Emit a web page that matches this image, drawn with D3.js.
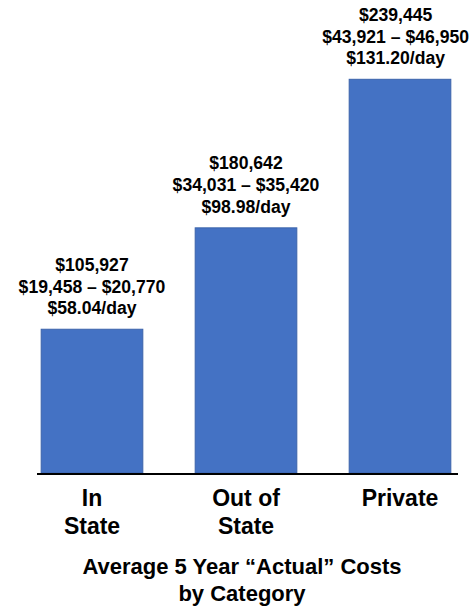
<!DOCTYPE html>
<style>
body {
  margin: 0;
  background: #fff;
}
text {
  font-family: "Liberation Sans", Arial, sans-serif;
  font-weight: bold;
  fill: #000;
}
.bar {
  fill: #4472c4;
  stroke: #3b63ab;
  stroke-width: 1;
}
.baseline {
  stroke: #000;
  stroke-width: 2;
}
</style>
<svg width="471" height="606"></svg>
<script src="https://d3js.org/d3.v7.min.js"></script>
<script>

// categories (multi-line tick labels)
var categories = ["In State", "Out of State", "Private"],
    categoryLines = [["In", "State"], ["Out of", "State"], ["Private"]];

// drawn bar heights (the private bar is drawn
// taller than its $239,445 label would give on the same scale)
var barValues = [105927, 180642, 290100];

// value labels above each bar
var totals = ["$105,927", "$180,642", "$239,445"],
    yearlyRanges = ["$19,458 \u2013 $20,770", "$34,031 \u2013 $35,420", "$43,921 \u2013 $46,950"],
    perDay = ["$58.04/day", "$98.98/day", "$131.20/day"];

var titleLines = ["Average 5 Year \u201cActual\u201d Costs", "by Category"];

var svg = d3.select("svg"),
    width = 471,
    baseY = 473;

var x = d3.scaleBand()
  .domain(categories)
  .range([15, 477])
  .paddingInner(0.34)
  .paddingOuter(0.17);

var y = d3.scaleLinear()
  .domain([0, 290100])
  .range([baseY, 79.3]);

svg.selectAll(".bar")
  .data(categories)
  .enter().append("rect")
  .attr("class", "bar")
  .attr("x", (d, i) => x(d))
  .attr("width", x.bandwidth())
  .attr("y", (d, i) => y(barValues[i]))
  .attr("height", (d, i) => baseY - y(barValues[i]));

svg.append("line")
  .attr("class", "baseline")
  .attr("x1", 37)
  .attr("x2", 458)
  .attr("y1", baseY + 1)
  .attr("y2", baseY + 1);

// value labels, pulled back inside the right edge when too wide
categories.forEach((c, i) => {
  var cx = x(c) + x.bandwidth() / 2,
      top = y(barValues[i]),
      lines = [totals[i], yearlyRanges[i], perDay[i]];
  var g = svg.append("g");
  lines.forEach((t, j) => {
    g.append("text")
      .attr("y", top - 15 - (2 - j) * 21.7)
      .attr("text-anchor", "middle")
      .style("font-size", "17.6px")
      .text(t);
  });
  var w = d3.max(g.selectAll("text").nodes(), n => n.getComputedTextLength());
  cx = Math.min(cx, width - 2 - w / 2);
  g.selectAll("text").attr("x", cx);
});

// category labels
categories.forEach((c, i) => {
  var cx = x(c) + x.bandwidth() / 2;
  categoryLines[i].forEach((t, j) => {
    svg.append("text")
      .attr("x", cx)
      .attr("y", 506 + j * 28)
      .attr("text-anchor", "middle")
      .style("font-size", "23px")
      .text(t);
  });
});

// title
titleLines.forEach((t, j) => {
  svg.append("text")
    .attr("x", 242)
    .attr("y", 574 + j * 26.5)
    .attr("text-anchor", "middle")
    .style("font-size", "22px")
    .text(t);
});
</script>
